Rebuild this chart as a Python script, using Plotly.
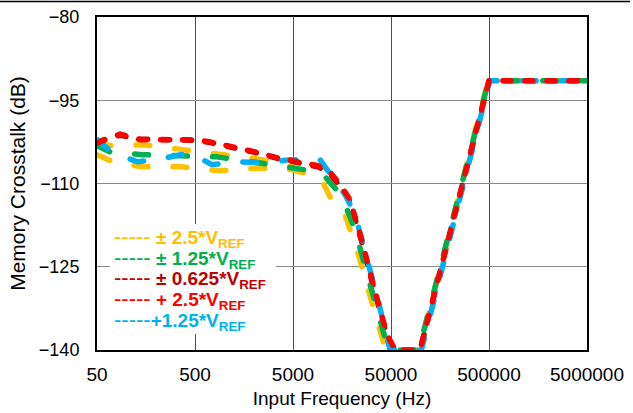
import plotly.graph_objects as go

# input frequency (Hz) and memory crosstalk (dB)
f_pm2p5 = [50, 73, 144, 368, 900, 2303, 4885, 5890, 8375, 9880, 12800, 17000, 20500,
           24200, 28400, 32700, 37700, 43500, 46600, 97000, 490000, 5000000]
db_pm2p5 = [-104.8, -106.1, -107.0, -107.0, -107.7, -107.2, -107.5, -107.9, -108.6, -109.5,
            -113.5, -115.6, -119.8, -123.8, -128.3, -131.9, -136.0, -139.6, -140, -140, -91.5, -91.5]
# second (upper) trace of the same setting
f_pm2p5_b = [50, 76, 147, 377, 944, 2415, 4885, 5890]
db_pm2p5_b = [-102.9, -103.2, -103.0, -103.9, -104.8, -105.7, -107.0, -107.9]

f_pm1p25 = [50, 68, 144, 368, 838, 2303, 5620, 8990, 10900, 13700, 17000, 20500, 23600,
            27200, 30600, 36000, 42500, 48900, 96000, 495000, 5000000]
db_pm1p25 = [-103.2, -104.3, -104.8, -105.0, -105.2, -106.3, -107.2, -107.9, -109.0, -111.0,
             -113.8, -117.4, -121.0, -124.6, -128.2, -132.7, -137.2, -140, -140, -91.5, -91.5]

f_pm0p625 = [50, 86, 137, 500, 711, 1280, 2050, 3515, 5890, 8990, 11900, 15100, 19100,
             23000, 25900, 29100, 32700, 38600, 45500, 55000, 98900, 500000, 5000000]
db_pm0p625 = [-102.5, -101.3, -102.0, -102.2, -102.6, -103.5, -104.4, -105.5, -106.2, -107.0,
              -108.2, -110.5, -113.3, -117.8, -121.3, -125.0, -128.6, -133.0, -137.5, -140, -140,
              -91.5, -91.5]

f_p2p5 = [50, 86, 137, 500, 711, 1280, 2050, 3515, 5890, 8990, 11900, 15100, 19100,
          23000, 25900, 29100, 32700, 38600, 45500, 55000, 98900, 500000, 5000000]
db_p2p5 = [-102.7, -101.1, -102.1, -102.1, -102.5, -103.4, -104.3, -105.4, -106.1, -106.8,
           -107.9, -110.2, -112.9, -117.4, -121.0, -124.6, -128.2, -132.7, -137.2, -140, -140,
           -91.5, -91.5]

f_p1p25 = [50, 73, 131, 247, 445, 745, 1440, 2590, 4656, 7447, 9430, 12800, 17000, 21500,
           25300, 30600, 36800, 43500, 48900, 102000, 510000, 5000000]
db_p1p25 = [-102.1, -104.5, -106.1, -105.4, -104.5, -106.6, -106.1, -106.3, -105.7, -105.7,
            -105.7, -109.0, -112.0, -115.6, -120.1, -125.5, -130.9, -136.3, -140, -140, -91.5, -91.5]

legend_labels = ["± 2.5*V<sub>REF</sub>", "± 1.25*V<sub>REF</sub>", "± 0.625*V<sub>REF</sub>",
                 "+ 2.5*V<sub>REF</sub>", "+1.25*V<sub>REF</sub>"]
colors = ["#FFC000", "#00B050", "#C00000", "#FF0000", "#00B0F0"]

x_ticks = [50, 500, 5000, 50000, 500000, 5000000]
x_ticktext = ["50", "500", "5000", "50000", "500000", "5000000"]

W = 5.5
long_dash = "14px,25px"
short_dash = "8px,14px"

fig = go.Figure()
# drawing order: dark red hidden underneath, red on top
traces = [
    (f_pm0p625, db_pm0p625, colors[2], short_dash),
    (f_pm2p5, db_pm2p5, colors[0], long_dash),
    (f_pm2p5_b, db_pm2p5_b, colors[0], long_dash),
    (f_pm1p25, db_pm1p25, colors[1], long_dash),
    (f_p1p25, db_p1p25, colors[4], long_dash),
    (f_p2p5, db_p2p5, colors[3], short_dash),
]
for x, y, c, d in traces:
    fig.add_trace(go.Scatter(x=x, y=y, mode="lines",
                             line=dict(color=c, width=W, dash=d),
                             showlegend=False, hoverinfo="skip"))

fig.update_layout(
    width=633, height=413,
    margin=dict(l=97, r=46, t=17, b=63),
    paper_bgcolor="white", plot_bgcolor="white",
    font=dict(family="Liberation Sans, Arial", size=18, color="black"),
    showlegend=False,
)
fig.update_xaxes(
    type="log", range=[1.69897, 6.69897], automargin=False,
    tickvals=x_ticks, ticktext=x_ticktext, tickfont=dict(size=19),
    showgrid=True, gridcolor="#505050", gridwidth=1,
    showline=True, linecolor="black", linewidth=2, mirror=True,
    ticks="", ticklabelstandoff=6,
    title=dict(text="Input Frequency (Hz)", standoff=8, font=dict(size=19)),
)
fig.update_yaxes(
    range=[-140, -80], tick0=-80, dtick=15, automargin=False,
    showgrid=True, gridcolor="#8a8a8a", gridwidth=1, zeroline=False,
    showline=True, linecolor="black", linewidth=2, mirror=True,
    ticks="", ticklabelstandoff=12,
    title=dict(text="Memory Crosstalk (dB)", standoff=8, font=dict(size=21)),
)

# legend box
fig.add_shape(type="rect", xref="paper", yref="paper", layer="above",
              x0=(110 - 97) / 490, x1=(276 - 97) / 490,
              y0=(350 - 334) / 333, y1=(350 - 224) / 333,
              fillcolor="white", line=dict(width=0))
row_px = [237, 258, 278, 299, 320]
for lab, c, py in zip(legend_labels, colors, row_px):
    sep = "" if lab.startswith("+1") else " "
    fig.add_annotation(xref="paper", yref="paper", x=(112 - 97) / 490, y=(350 - py) / 333,
                       xanchor="left", yanchor="middle", showarrow=False,
                       text="<span style='font-size:22px'>-----</span>" + sep + "<b>" + lab + "</b>",
                       font=dict(color=c, size=19))

# thin frame line at the very top of the image
fig.add_shape(type="line", xref="paper", yref="paper", layer="above",
              x0=-97 / 490, x1=533 / 490, y0=348.5 / 333, y1=348.5 / 333,
              line=dict(color="black", width=1.5))

fig.write_html("out.html", config={"displayModeBar": False}, post_script=(
    "document.body.style.margin='0';"
    "document.querySelectorAll('.scatterlayer .js-line').forEach(function(p){"
    "p.style.strokeLinecap='round';p.style.strokeLinejoin='round';});"))
